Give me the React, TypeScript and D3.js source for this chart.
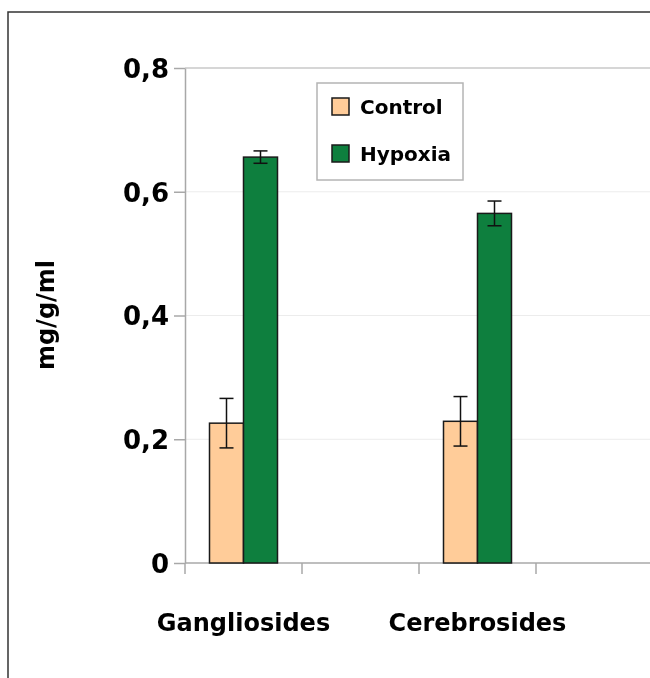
import React, { useEffect, useRef } from 'react';
import * as d3 from 'd3';

// categories (empty slots keep the spacing of the original chart)
const categories = ['Gangliosides', ' ', 'Cerebrosides', '  '];
const seriesNames = ['Control', 'Hypoxia'];
const controlValues = [0.226, null, 0.229, null];
const controlErrors = [0.04, null, 0.04, null];
const hypoxiaValues = [0.656, null, 0.565, null];
const hypoxiaErrors = [0.01, null, 0.02, null];
const yTicks = [0, 0.2, 0.4, 0.6, 0.8];
const colors = ['#FFCC99', '#0E7F3E'];

const FONT = '"Comic Sans MS", "DejaVu Sans", sans-serif';

const App = () => {
  const ref = useRef(null);
  const width = 650;
  const height = 678;
  const margin = { left: 185, top: 68, right: -3, bottom: 115 };

  useEffect(() => {
    document.documentElement.style.overflow = 'hidden';
    document.body.style.overflow = 'hidden';
    document.body.style.margin = '0';
    const svgRef = d3.select(ref.current);
    svgRef.selectAll('*').remove();

    const innerWidth = width - margin.left - margin.right;
    const innerHeight = height - margin.top - margin.bottom;

    const svg = svgRef.attr('width', width).attr('height', height);

    // outer frame (right and bottom edges run off the picture)
    svg.append('path')
      .attr('d', `M8,${height}V12H${width}`)
      .attr('fill', 'none')
      .attr('stroke', '#333').attr('stroke-width', 1.5);

    const g = svg.append('g').attr('transform', `translate(${margin.left},${margin.top})`);

    const x = d3.scaleBand().domain(categories).range([0, innerWidth]);
    const y = d3.scaleLinear().domain([0, 0.8]).range([innerHeight, 0]);

    // grid lines
    g.selectAll('.grid')
      .data(yTicks.filter(t => t > 0 && t < 0.8))
      .join('line')
      .attr('x1', 0).attr('x2', innerWidth)
      .attr('y1', d => y(d)).attr('y2', d => y(d))
      .attr('stroke', '#ececec').attr('stroke-width', 1);

    // top line of plot area
    g.append('line')
      .attr('x1', 0).attr('x2', innerWidth)
      .attr('y1', y(0.8)).attr('y2', y(0.8))
      .attr('stroke', '#c8c8c8').attr('stroke-width', 1.5);

    // y axis
    const yAxis = g.append('g')
      .call(d3.axisLeft(y).tickValues(yTicks).tickSize(11).tickSizeOuter(0)
        .tickFormat(d => d3.format('.1f')(d).replace('.', ',').replace(/^0,0$/, '0')));
    yAxis.select('.domain').attr('stroke', '#a8a8a8').attr('stroke-width', 1.5);
    yAxis.selectAll('.tick line').attr('stroke', '#a8a8a8').attr('stroke-width', 1.5);
    yAxis.selectAll('.tick text')
      .attr('x', -16).attr('dy', '0.36em')
      .style('font-family', FONT).style('font-weight', 'bold')
      .style('font-size', '26px').attr('fill', '#000');

    // x axis baseline and boundary ticks
    g.append('line')
      .attr('x1', 0).attr('x2', innerWidth)
      .attr('y1', innerHeight).attr('y2', innerHeight)
      .attr('stroke', '#a8a8a8').attr('stroke-width', 1.5);
    const bounds = categories.map(c => x(c));
    g.selectAll('.xtick')
      .data(bounds)
      .join('line')
      .attr('x1', d => d).attr('x2', d => d)
      .attr('y1', innerHeight).attr('y2', innerHeight + 11)
      .attr('stroke', '#a8a8a8').attr('stroke-width', 1.5);

    // category labels
    g.selectAll('.xlabel')
      .data(categories)
      .join('text')
      .attr('x', d => x(d) + x.bandwidth() / 2)
      .attr('y', innerHeight + 68)
      .attr('text-anchor', 'middle')
      .style('font-family', FONT).style('font-weight', 'bold')
      .style('font-size', '24px')
      .text(d => d.trim());

    // bars
    const barW = 34;
    const series = [
      { values: controlValues, errors: controlErrors },
      { values: hypoxiaValues, errors: hypoxiaErrors },
    ];
    series.forEach((s, si) => {
      const items = categories
        .map((c, i) => ({ c, v: s.values[i], e: s.errors[i] }))
        .filter(d => d.v != null);
      const bx = d => x(d.c) + x.bandwidth() / 2 - barW + si * barW;

      g.selectAll(`.bar${si}`)
        .data(items)
        .join('rect')
        .attr('x', bx)
        .attr('y', d => y(d.v))
        .attr('width', barW)
        .attr('height', d => innerHeight - y(d.v))
        .attr('fill', colors[si])
        .attr('stroke', '#1a1a1a').attr('stroke-width', 1.5);

      // error bars
      items.forEach(d => {
        const cx = bx(d) + barW / 2;
        const eg = g.append('g').attr('stroke', '#111').attr('stroke-width', 1.5);
        eg.append('line').attr('x1', cx).attr('x2', cx)
          .attr('y1', y(d.v + d.e)).attr('y2', y(d.v - d.e));
        [d.v + d.e, d.v - d.e].forEach(v => {
          eg.append('line').attr('x1', cx - 7).attr('x2', cx + 7)
            .attr('y1', y(v)).attr('y2', y(v));
        });
      });
    });

    // y label
    svg.append('text')
      .attr('transform', `translate(54, 315) rotate(-90)`)
      .attr('text-anchor', 'middle')
      .style('font-family', FONT).style('font-weight', 'bold')
      .style('font-size', '24px')
      .text('mg/g/ml');

    // legend
    const lg = svg.append('g').attr('transform', 'translate(317, 83)');
    lg.append('rect')
      .attr('width', 146).attr('height', 97)
      .attr('fill', 'white').attr('stroke', '#b4b4b4').attr('stroke-width', 1.5);
    seriesNames.forEach((name, i) => {
      const row = lg.append('g').attr('transform', `translate(15, ${15 + i * 47})`);
      row.append('rect')
        .attr('width', 17).attr('height', 17)
        .attr('fill', colors[i]).attr('stroke', '#1a1a1a').attr('stroke-width', 1.5);
      row.append('text')
        .attr('x', 28).attr('y', 16)
        .style('font-family', FONT).style('font-weight', 'bold')
        .style('font-size', '20px')
        .text(name);
    });
  }, []);

  return (
    <div style={{ position: 'fixed', left: 0, top: 0, width: 650, height: 678, overflow: 'hidden' }}>
      <svg ref={ref} style={{ display: 'block', overflow: 'hidden' }}></svg>
    </div>
  );
};

export default App;
